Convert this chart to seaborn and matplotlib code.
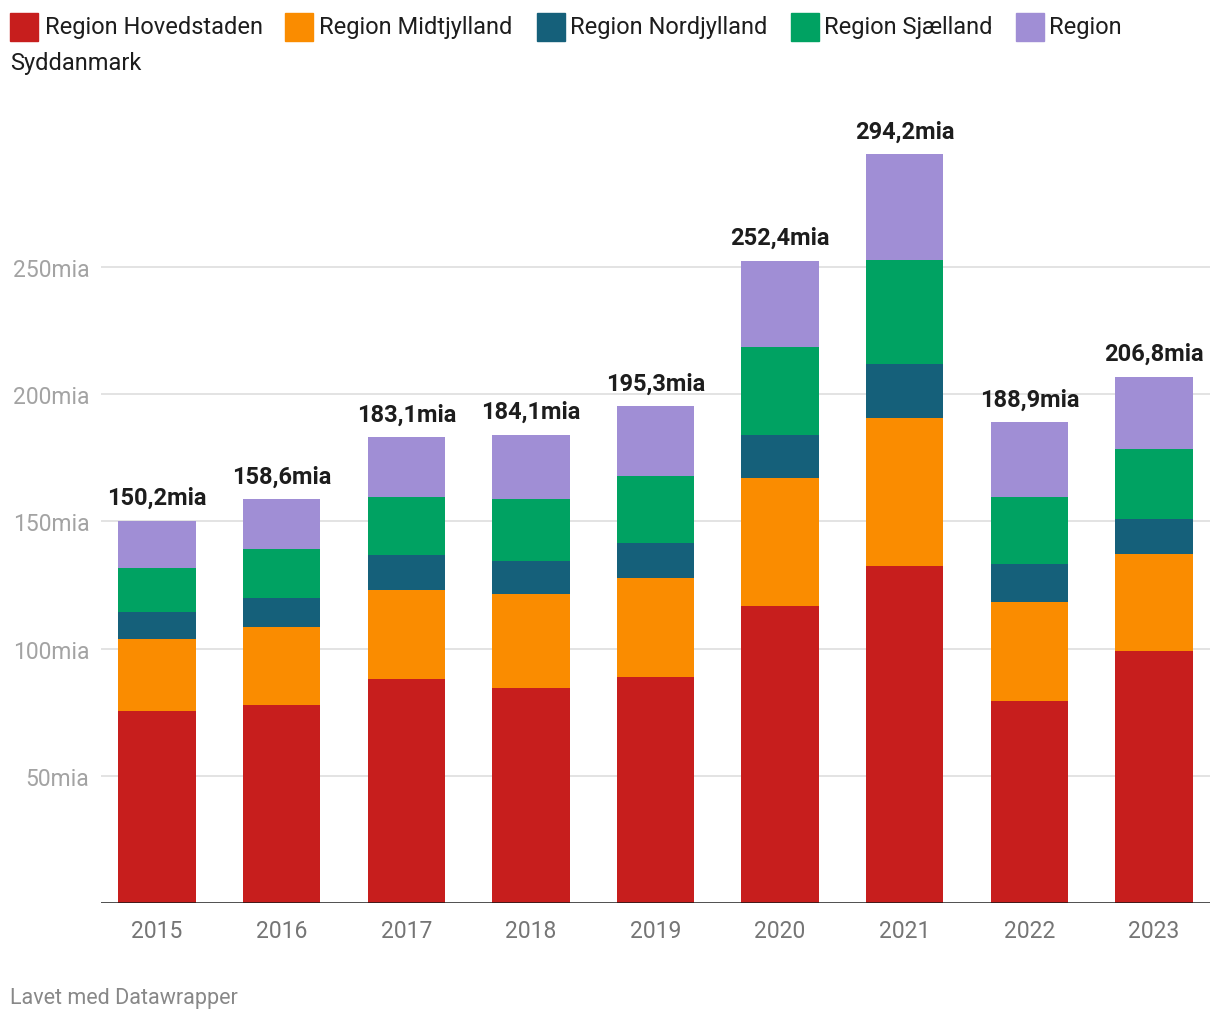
import matplotlib
matplotlib.use("Agg")
import matplotlib.pyplot as plt
import matplotlib.patches as mpatches
import numpy as np
import pandas as pd
import seaborn as sns

years = ["2015", "2016", "2017", "2018", "2019", "2020", "2021", "2022", "2023"]
regions = ["Region Hovedstaden", "Region Midtjylland", "Region Nordjylland",
           "Region Sjælland", "Region Syddanmark"]

hovedstaden = [75.6, 78.0, 88.2, 84.6, 89.0, 116.9, 132.3, 79.5, 99.2]
midtjylland = [28.3, 30.3, 35.0, 36.7, 38.6, 50.0, 58.3, 39.0, 37.8]
nordjylland = [10.3, 11.4, 13.4, 13.0, 13.7, 17.0, 21.2, 14.6, 13.8]
sjaelland = [17.3, 19.3, 22.8, 24.4, 26.4, 34.6, 41.0, 26.3, 27.5]
syddanmark = [18.7, 19.6, 23.7, 25.4, 27.6, 33.9, 41.4, 29.5, 28.5]
totals = ["150,2mia", "158,6mia", "183,1mia", "184,1mia", "195,3mia",
          "252,4mia", "294,2mia", "188,9mia", "206,8mia"]

colors = ["#c71e1d", "#fa8c00", "#15607a", "#00a262", "#a08ed5"]

df = pd.DataFrame({"year": years,
                   regions[0]: hovedstaden,
                   regions[1]: midtjylland,
                   regions[2]: nordjylland,
                   regions[3]: sjaelland,
                   regions[4]: syddanmark})
cum = df[regions].cumsum(axis=1)

plt.rcParams["font.family"] = ["Roboto", "DejaVu Sans"]

fig = plt.figure(figsize=(12.2, 10.2), dpi=100)
W, H = 1220, 1020
ax = fig.add_axes([101 / W, (H - 904) / H, (1210 - 101) / W, 804 / H])

# stacked bars: draw cumulative totals from the top layer down
for reg, col in reversed(list(zip(regions, colors))):
    sns.barplot(x=df["year"], y=cum[reg], color=col, saturation=1,
                width=0.62, ax=ax, zorder=3)

ax.set_ylim(0, 316)
ax.set_xlim(-0.45, 8.45)
ax.set_yticks([50, 100, 150, 200, 250])
ax.set_yticklabels([f"{v}mia" for v in [50, 100, 150, 200, 250]])
ax.grid(axis="y", color="#e3e3e3", linewidth=1.4, zorder=0)
ax.grid(axis="x", visible=False)
ax.set_axisbelow(True)
for s in ax.spines.values():
    s.set_visible(False)
ax.axhline(0, color="#1a1a1a", linewidth=1.8, zorder=4)
ax.tick_params(axis="y", length=0, pad=8.5, labelsize=16.5, labelcolor="#a3a3a3")
ax.tick_params(axis="x", length=0, pad=11.5, labelsize=16.5, labelcolor="#757575")
ax.set_xlabel("")
ax.set_ylabel("")

# total labels
tot = cum[regions[-1]].values
for i, lab in enumerate(totals):
    ax.annotate(lab, (i, tot[i]), xytext=(0, 12), textcoords="offset points",
                ha="center", va="baseline", fontsize=17, fontweight="bold",
                color="#1d1d1d")

# legend drawn by hand so it can wrap like the original
leg_items = [(10, 45, regions[0]), (285, 319, regions[1]), (537, 570, regions[2]),
             (791, 824, regions[3]), (1016, 1049, "Region")]
for (sx, tx, lab), col in zip(leg_items, colors):
    fig.patches.append(mpatches.Rectangle((sx / W, 1 - 42 / H), 28 / W, 28 / H,
                                          transform=fig.transFigure, color=col))
    fig.text(tx / W, 1 - 34 / H, lab, fontsize=17, color="#1d1d1d", va="baseline")
fig.text(10 / W, 1 - 70 / H, "Syddanmark", fontsize=17, color="#1d1d1d", va="baseline")

fig.text(10 / W, 1 - 1004 / H, "Lavet med Datawrapper", fontsize=15.5,
         color="#888888", va="baseline")

fig.savefig("out.png", dpi=100, facecolor="white")
